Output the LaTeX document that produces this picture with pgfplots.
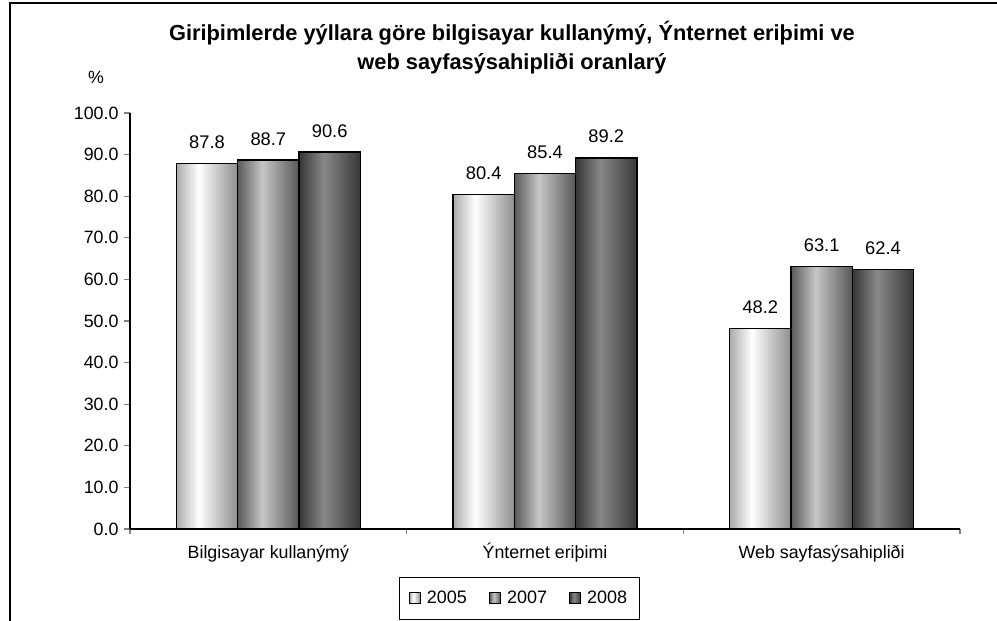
\documentclass[border=0pt]{standalone}
\usepackage{fontspec}
\setmainfont{Liberation Sans}
\usepackage{pgfplots}
\pgfplotsset{compat=1.18}
\definecolor{aL}{HTML}{ABABAB}
\definecolor{aR}{HTML}{8E8E8E}
\definecolor{bL}{HTML}{5A5A5A}
\definecolor{bM}{HTML}{C6C6C6}
\definecolor{bR}{HTML}{585858}
\definecolor{cL}{HTML}{363636}
\definecolor{cM}{HTML}{888888}
\definecolor{cR}{HTML}{383838}
\pgfdeclarehorizontalshading{sA}{100bp}{color(0bp)=(aL); color(25bp)=(aL); color(43bp)=(white); color(75bp)=(aR); color(100bp)=(aR)}
\pgfdeclarehorizontalshading{sB}{100bp}{color(0bp)=(bL); color(25bp)=(bL); color(45bp)=(bM); color(75bp)=(bR); color(100bp)=(bR)}
\pgfdeclarehorizontalshading{sC}{100bp}{color(0bp)=(cL); color(25bp)=(cL); color(45bp)=(cM); color(75bp)=(cR); color(100bp)=(cR)}
\pgfplotsset{
  barA/.style={ybar, bar width=61.3pt, bar shift=-61.3pt, draw=black, line width=1.3pt, shading=sA,
    every node near coord/.append style={/tikz/xshift=-61.3pt}},
  barB/.style={ybar, bar width=61.3pt, bar shift=0pt, draw=black, line width=1.3pt, shading=sB},
  barC/.style={ybar, bar width=61.3pt, bar shift=61.3pt, draw=black, line width=1.3pt, shading=sC,
    every node near coord/.append style={/tikz/xshift=61.3pt}},
}
\begin{document}
\begin{tikzpicture}[x=1pt,y=1pt]
\useasboundingbox (0,0) rectangle (997,621);
\draw[line width=1.3pt] (10,0) -- (10,618) -- (997,618);
\begin{axis}[
  at={(130pt,92pt)}, anchor=south west,
  scale only axis, width=830pt, height=416pt,
  xmin=-0.5, xmax=2.5, ymin=0, ymax=100,
  axis x line=bottom, axis y line=left,
  axis line style={-, line width=1.1pt},
  xtick={0,1,2},
  xticklabels={Bilgisayar kullanýmý, Ýnternet eriþimi, Web sayfasýsahipliði},
  minor xtick={-0.5,0.5,1.5,2.5},
  every major x tick/.append style={draw=none},
  every minor x tick/.append style={line width=1.1pt},
  every major y tick/.append style={line width=1.1pt},
  major tick length=6pt, minor tick length=5pt,
  tick align=outside,
  ytick={0,10,...,100},
  yticklabel style={xshift=-2pt, /pgf/number format/.cd, fixed, fixed zerofill, precision=1, assume math mode=true},
  xticklabel style={anchor=base, yshift=-24pt},
  ticklabel style={font=\fontsize{17.8}{20}\selectfont},
  nodes near coords,
  nodes near coords style={font=\fontsize{18.3}{20}\selectfont, anchor=base, yshift=15pt,
    /pgf/number format/.cd, fixed, fixed zerofill, precision=1, assume math mode=true},
  ylabel={\%},
  ylabel style={rotate=-90, at={(axis description cs:-0.041,1.0865)}, anchor=center, font=\fontsize{17.8}{20}\selectfont},
  title={Giriþimlerde yýllara göre bilgisayar kullanýmý, Ýnternet eriþimi ve\\web sayfasýsahipliði oranlarý},
  title style={at={(axis description cs:0.4602,1.142)}, anchor=center, align=center, font=\bfseries\fontsize{21.8}{29}\selectfont},
  legend columns=3,
  legend style={at={(axis description cs:0.4687,-0.1659)}, anchor=center, draw=black, line width=0.8pt,
    font=\fontsize{18}{20}\selectfont, inner xsep=10pt, inner ysep=12pt,
    /tikz/every even column/.append style={column sep=20pt},
    /tikz/every odd column/.append style={column sep=4pt}},
  legend image code/.code={\draw[#1, line width=1pt] (0pt,-5.5pt) rectangle (11pt,5.5pt);},
]
\addplot[barA] coordinates {(0,87.8)};
\addplot[barB] coordinates {(0,88.7)};
\addplot[barC] coordinates {(0,90.6)};
\addplot[barA, forget plot] coordinates {(1,80.4)};
\addplot[barB, forget plot] coordinates {(1,85.4)};
\addplot[barC, forget plot] coordinates {(1,89.2)};
\addplot[barA, forget plot] coordinates {(2,48.2)};
\addplot[barB, forget plot] coordinates {(2,63.1)};
\addplot[barC, forget plot] coordinates {(2,62.4)};
\legend{2005,2007,2008}
\end{axis}
\end{tikzpicture}
\end{document}
